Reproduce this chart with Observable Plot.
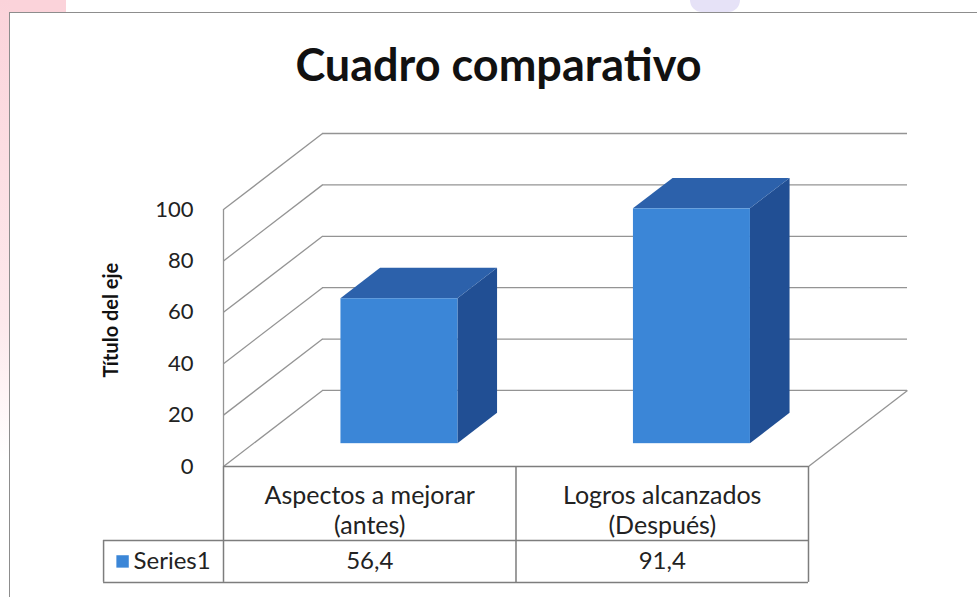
<!DOCTYPE html>
<html><head><meta charset="utf-8">
<script src="https://cdn.jsdelivr.net/npm/d3@7"></script>
<script src="https://cdn.jsdelivr.net/npm/@observablehq/plot@0.6"></script>
<style>
body{margin:0;background:#fff;}
#wrap{position:relative;width:977px;height:597px;overflow:hidden;background:#fff;font-family:Lato,sans-serif;}
.wm{position:absolute;}
#frame{position:absolute;left:9px;top:12px;width:1000px;height:640px;border:1.5px solid #8d8d8d;box-sizing:border-box;background:#fff;}
#title{position:absolute;left:0;top:37px;width:997px;text-align:center;font-weight:700;font-size:45px;color:#111;}
#chart{position:absolute;left:0;top:0;}
</style></head><body>
<div id="wrap">
  <div class="wm" style="left:0;top:0;width:66px;height:14px;background:#fbd3da"></div>
  <div class="wm" style="left:0;top:0;width:10px;height:460px;background:linear-gradient(#fbd3da,#fde9ec 70%,#fff)"></div>
  <div class="wm" style="left:690px;top:0;width:50px;height:12px;background:#e6e2f7;border-radius:0 0 30px 30px"></div>
  <div id="frame"></div>
  <div id="title"></div>
  <div id="chart"></div>
</div>
<script>
const title = "Cuadro comparativo";
const axisTitle = "Título del eje";
const seriesName = "Series1";
const categories = ["Aspectos a mejorar\n(antes)", "Logros alcanzados\n(Después)"];
const values = [56.4, 91.4];
const yTicks = [0, 20, 40, 60, 80, 100];

// 3D styling (layout only)
const DX = 0.3385, DY = 29.6;       // depth offset in x-band units and value units
const GAP = 0.3, F = 0.3, B = 0.7;   // bar inset and bar depth range
const FRONT = "#3b86d7", TOP = "#2c61ab", SIDE = "#214f94";
const GRID = "#949494", TABLE = "#7d7d7d";
const ROW1 = -28.8, ROW2 = -45.1, LEGX = -0.41;

document.getElementById("title").textContent = title;

const bars = categories.map((c, i) => ({c, v: values[i], i}));
const faces = bars.flatMap(d => [F, B].map(t => ({...d, t})));
const fmt = v => String(v).replace(".", ",");

const plot = Plot.plot({
  width: 977, height: 597,
  marginLeft: 223, marginRight: 70, marginTop: 133, marginBottom: 131,
  style: {fontFamily: "Lato, sans-serif", fontSize: "22px", color: "#222", background: "transparent", overflow: "visible"},
  x: {domain: [0, 2 + DX], axis: null},
  y: {domain: [0, 100 + DY], ticks: yTicks, tickSize: 0, tickPadding: 30, tickFormat: d => d, label: null},
  marks: [
    // back wall gridlines
    Plot.ruleY(yTicks, {y: d => d + DY, x1: DX, x2: 2 + DX, stroke: GRID, strokeWidth: 1.3}),
    // left wall diagonals
    Plot.link(yTicks, {x1: 0, y1: d => d, x2: DX, y2: d => d + DY, stroke: GRID, strokeWidth: 1.3}),
    // left wall front edge
    Plot.ruleX([0], {y1: 0, y2: 100, stroke: GRID, strokeWidth: 1.3}),
    // floor right edge
    Plot.link([0], {x1: 2, y1: 0, x2: 2 + DX, y2: DY, stroke: GRID, strokeWidth: 1.3}),
    // bars: side, top, front
    Plot.areaY(faces, {x: d => d.i + 1 - GAP + d.t * DX, y1: d => d.t * DY, y2: d => d.v + d.t * DY, z: "i", fill: SIDE}),
    Plot.areaX(faces, {y: d => d.v + d.t * DY, x1: d => d.i + GAP + d.t * DX, x2: d => d.i + 1 - GAP + d.t * DX, z: "i", fill: TOP}),
    Plot.rect(bars, {x1: d => d.i + GAP + F * DX, x2: d => d.i + 1 - GAP + F * DX, y1: F * DY, y2: d => d.v + F * DY, fill: FRONT}),
    // data table
    Plot.ruleY([0], {x1: 0, x2: 2, stroke: TABLE, strokeWidth: 1.5}),
    Plot.ruleY([ROW1, ROW2], {x1: LEGX, x2: 2, stroke: TABLE, strokeWidth: 1.5}),
    Plot.ruleX([0, 1, 2], {y1: 0, y2: ROW2, stroke: TABLE, strokeWidth: 1.5}),
    Plot.ruleX([LEGX], {y1: ROW1, y2: ROW2, stroke: TABLE, strokeWidth: 1.5}),
    Plot.text(bars, {x: d => d.i + 0.5, y: ROW1 * 0.58, text: "c", fontSize: 25, lineHeight: 1.18, fill: "#222"}),
    Plot.text(bars, {x: d => d.i + 0.5, y: (ROW1 + ROW2) / 2, text: d => fmt(d.v), fontSize: 24, fill: "#222"}),
    Plot.dot([seriesName], {x: LEGX, y: (ROW1 + ROW2) / 2, dx: 19, symbol: "square", r: 7, fill: FRONT}),
    Plot.text([seriesName], {x: LEGX, y: (ROW1 + ROW2) / 2, dx: 30, text: d => d, textAnchor: "start", fontSize: 24, fill: "#222"}),
    // axis title
    Plot.text([axisTitle], {frameAnchor: "left", y: 57, dx: -112, rotate: -90, textAnchor: "middle", text: d => d, fontSize: 20, fontWeight: "bold", fill: "#111"})
  ]
});
document.getElementById("chart").appendChild(plot);
</script>
</body></html>
